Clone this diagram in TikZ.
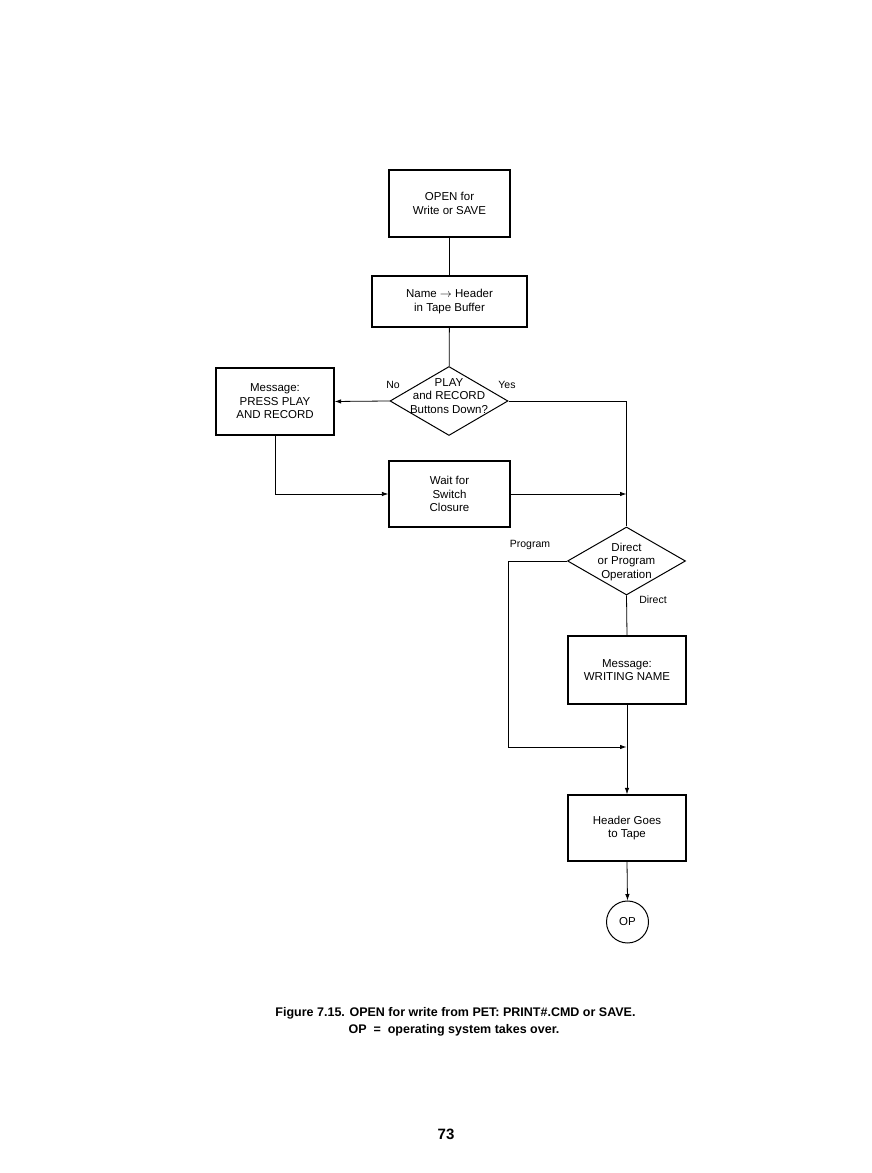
\documentclass[tikz,border=0pt]{standalone}
\usepackage{fontspec}
\setmainfont{Liberation Sans}
\usetikzlibrary{positioning,arrows.meta,shapes.geometric}
\tikzset{
  flow box/.style={
    draw=black,
    line width=1.3pt,
    align=center,
    font=\fontsize{11.5}{13.5}\selectfont,
    inner sep=3pt
  },
  flow step/.style={flow box, minimum width=118pt, minimum height=67pt},
  flow test/.style={draw=black, line width=1pt, diamond, inner sep=0pt, minimum width=118pt, minimum height=69pt},
  flow text/.style={align=center, font=\fontsize{11.5}{13.5}\selectfont, inner sep=0pt},
  flow end/.style={draw=black, line width=1pt, circle, minimum size=42pt, inner sep=0pt, font=\fontsize{11.5}{13.5}\selectfont},
  flow line/.style={line width=0.8pt, black},
  flow arrow/.style={flow line, -{Latex[length=6.5pt,width=4.5pt]}},
  flow label/.style={font=\fontsize{10.5}{12}\selectfont, inner sep=1pt}
}

\begin{document}
\begin{tikzpicture}[x=1pt,y=1pt]
\useasboundingbox[fill=white] (0,0) rectangle (871,1173);
\node[flow step, minimum width=121pt] (open) at (449.5,969.5) {OPEN for\\Write or SAVE};
\node[flow box, minimum width=155pt, minimum height=51pt] (name) at (449.5,871.5) {Name $\rightarrow$ Header\\in Tape Buffer};
\node[flow test, label={[flow text, yshift=5pt]center:PLAY\\and RECORD\\Buttons Down?}] (play) at (449,772) {};
\node[flow step] (press) at (275,771.5) {Message:\\PRESS PLAY\\AND RECORD};
\node[flow step, minimum width=121pt, minimum height=66pt] (wait) at (449.5,679) {Wait for\\Switch\\Closure};
\node[flow test, minimum height=68pt, label={[flow text, yshift=-1pt]center:Direct\\or Program\\Operation}] (mode) at (626.5,612) {};
\node[flow step, minimum height=68pt] (msg) at (627,503) {Message:\\WRITING NAME};
\node[flow step, minimum height=66pt] (hdr) at (627,345) {Header Goes\\to Tape};
\node[flow end] (op) at (627.5,251) {OP};
\node[flow label] (no) at (393,788) {No};
\node[flow label] (yes) at (507,788) {Yes};
\node[flow label] (prog) at (530,628) {Program};
\node[flow label] (dir) at (653,573) {Direct};
\coordinate (join1) at (mode.north |- wait.east);
\coordinate (join2) at (626.5,426);
\draw[flow line] (open) -- (name);
\draw[flow line] (name) -- (play);
\draw[flow arrow] (play.west) -- (press.east);
\draw[flow arrow] (press.south) |- (wait.west);
\draw[flow line] (play.east) -| (mode.north);
\draw[flow arrow] (wait.east) -- (join1);
\draw[flow arrow] (mode.west) -- ++(-59,0) |- (join2);
\draw[flow line] (mode.south) -- (msg.north);
\draw[flow arrow] (msg.south) -- (hdr.north);
\draw[flow arrow] (hdr.south) -- (op.north);
% caption and page number
\node[font=\fontsize{12.5}{14}\selectfont\bfseries] (cap1) at (455.5,160) {Figure 7.15. OPEN for write from PET: PRINT\#.CMD or SAVE.};
\node[font=\fontsize{12.5}{14}\selectfont\bfseries] (cap2) at (454,143) {OP \ = \ operating system takes over.};
\node[font=\fontsize{15}{17}\selectfont\bfseries] (page) at (446,39) {73};
\end{tikzpicture}
\end{document}
